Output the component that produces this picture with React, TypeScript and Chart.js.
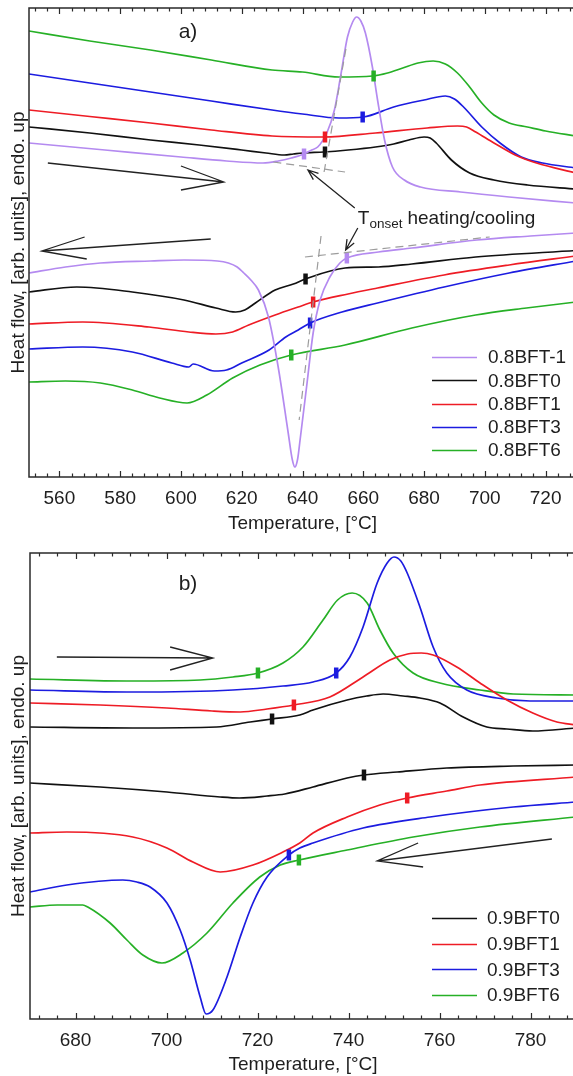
import React, { useEffect, useRef } from 'react';
import { Chart, registerables } from 'chart.js';

Chart.register(...registerables);

type Pt = [number, number];

const FONT = '"Liberation Sans", Arial, Helvetica, sans-serif';
const TEXT = '#1e1e1e';

// ================= Panel a) =================
const xRangeA: Pt = [550, 730];
const yRangeA: Pt = [0, 469];
const xTicksA = [560, 580, 600, 620, 640, 660, 680, 700, 720];
const namesA = ['0.8BFT-1', '0.8BFT0', '0.8BFT1', '0.8BFT3', '0.8BFT6'];
const colorsA = ['#b48af0', '#111111', '#ee1c25', '#1c1ce0', '#26b026'];

// heating curves (upper group)
const a_m1_heat: Pt[] = [[550, 334], [575, 327], [600, 320], [615, 316], [627, 314], [632, 316], [636.3, 319], [640.5, 323], [643, 327], [645, 330], [648, 344], [650.5, 367], [652.5, 400], [654.8, 440], [656.5, 455], [657.8, 460], [659.2, 456], [660.7, 444], [663, 410], [664.7, 377], [667, 337], [669.6, 310], [673.5, 297], [678.8, 290], [692, 285], [708, 280], [730, 274]];
const a_0_heat: Pt[] = [[550, 350], [570, 344], [590, 337], [606, 332], [620, 327], [628, 324], [634, 322], [637, 323], [640, 324], [647, 325], [655, 327], [664, 330], [670, 333], [675, 337], [680, 340], [682, 339], [684, 334], [689, 317], [695, 304], [703, 297], [714, 292], [730, 288]];
const a_1_heat: Pt[] = [[550, 367], [570, 360.5], [590, 354], [610, 347], [630, 341], [647, 340], [664, 344], [681, 349], [691, 351], [694, 350], [697, 345], [703, 334], [710, 322], [717, 314], [730, 304]];
const a_3_heat: Pt[] = [[550, 403], [570, 394], [590, 385], [610, 376], [630, 367], [640, 363], [652, 359], [660, 360], [670, 370], [680, 377], [687, 381], [690, 378], [693, 370], [699, 350], [705, 334], [712, 320], [719, 314], [730, 309]];
const a_6_heat: Pt[] = [[550, 446], [570, 436], [590, 427], [610, 417], [630, 407], [640, 405], [652, 400], [663, 401], [668, 404], [673, 409], [678, 414], [683, 416], [687, 413], [691, 404], [695, 390], [699, 374], [703, 362], [708, 354], [714, 350], [720, 346], [730, 341]];

// cooling curves (lower group)
const a_m1_cool: Pt[] = [[550, 204], [562, 210], [573.5, 214], [590, 216], [601, 217], [612, 216], [615.6, 214], [618.5, 210], [620.7, 204], [623, 197], [625.5, 187], [628.8, 160], [632, 110], [635.3, 44], [636.6, 18], [637.5, 10], [638.4, 18], [639.2, 37], [641.5, 94], [643.5, 144], [645.8, 177], [649, 200], [652.3, 214], [654.6, 219], [665, 225], [676, 229], [697.4, 237], [715, 241], [730, 244]];
const a_0_cool: Pt[] = [[550, 185], [565.7, 190], [584, 185], [601, 177], [611.5, 169], [618, 165], [621, 167], [624.5, 174], [631, 187], [637, 193], [641, 198], [654, 209], [665, 210], [676, 213], [697, 220], [730, 226.5]];
const a_1_cool: Pt[] = [[550, 153], [567.7, 155], [589.5, 150], [602.6, 145], [611.5, 143], [617, 145], [622.3, 152], [631, 162], [638.6, 170], [643.5, 175], [655, 183], [664.7, 189], [686.6, 202], [708, 212], [730, 221]];
const a_3_cool: Pt[] = [[550, 128], [567.7, 130], [584, 125], [597, 114], [602.6, 110], [604, 113], [611, 106], [615, 107], [620, 114], [629, 127], [634.5, 140], [638.6, 147], [642.5, 154], [653, 165], [664.7, 174], [686.6, 190], [708, 204], [730, 216]];
const a_6_cool: Pt[] = [[550, 95], [562, 96], [573.5, 94], [584, 87], [593, 79], [602, 74], [608.5, 82], [617, 99], [626, 112], [636.3, 122], [654, 132], [676, 149], [697, 162], [713.7, 169], [730, 175]];

// onset markers, same order as namesA
const onsetHeatA: Pt[] = [[640.5, 323], [647.4, 325], [647.4, 340], [659.8, 360], [663.4, 401]];
const onsetCoolA: Pt[] = [[654.6, 219], [641, 198], [643.5, 175], [642.5, 154], [636.3, 122]];

// annotations: [tail, tip, head1, head2]
const arrowsA: Pt[][] = [
  [[556.2, 314], [614.1, 295], [600, 311], [600, 287]],
  [[609.8, 238], [554.2, 226], [568.3, 240], [569, 218]],
];
const tangentsA: Pt[][] = [
  [[630.4, 315], [654, 305]],
  [[647.1, 305], [654.4, 430]],
  [[640.8, 220], [701.6, 240]],
  [[646.1, 241], [638.9, 57]],
];
const pointersA: Pt[][] = [
  [[657.2, 269], [641.8, 307]],
  [[658.2, 249], [654.2, 227]],
];
const onsetLabelA: Pt = [658.2, 253];

// ================= Panel b) =================
const xRangeB: Pt = [670, 790];
const yRangeB: Pt = [0, 466];
const xTicksB = [680, 700, 720, 740, 760, 780];
const namesB = ['0.9BFT0', '0.9BFT1', '0.9BFT3', '0.9BFT6'];
const colorsB = ['#111111', '#ee1c25', '#1c1ce0', '#26b026'];

const b_0_heat: Pt[] = [[670, 292], [692.6, 291], [711, 292], [718.4, 297], [723.2, 300], [729.3, 304], [732.2, 309], [739.7, 319], [744, 323], [747.6, 325], [752, 323], [755.7, 321], [760.1, 316], [765.2, 302], [770.4, 292], [774.8, 290], [780.5, 288], [790, 291]];
const b_1_heat: Pt[] = [[670, 316], [685.4, 314], [700.1, 311], [710, 308], [716.2, 307], [722.1, 310], [728, 314], [735.9, 322], [743.2, 342], [749.1, 359], [753, 365], [756, 366], [758.6, 364], [763.8, 352], [768.9, 336], [774.8, 319], [780.5, 306], [785.8, 297], [790, 294]];
const b_3_heat: Pt[] = [[670, 329], [692.6, 327], [714.6, 329], [725.6, 333], [732.2, 337], [737.3, 346], [740.3, 362], [743.2, 392], [746.3, 436], [748.5, 456], [750, 462], [751.5, 458], [752.9, 446], [755.7, 412], [758.6, 372], [761.6, 346], [766, 329], [772.6, 321], [779.9, 318], [790, 318]];
const b_6_heat: Pt[] = [[670, 340], [692.6, 338], [707.4, 339], [714.6, 342], [720.1, 346], [725.6, 356], [730, 372], [734.4, 399], [737.6, 419], [740.8, 426], [744.1, 416], [746.9, 389], [749.8, 366], [754.2, 346], [760.1, 336], [768.9, 329], [776.2, 325], [790, 324]];

const b_0_cool: Pt[] = [[670, 236], [685.4, 232], [700.1, 227], [711.8, 222], [716, 221], [722.1, 223], [726, 225], [732.2, 232], [739.7, 241], [743.4, 244], [750.7, 247], [761.6, 251], [776.2, 253], [790, 254]];
const b_1_cool: Pt[] = [[670, 186], [678.1, 187], [692.6, 182], [700.1, 171], [705.8, 157], [711.8, 147], [719, 154], [725.6, 167], [729.3, 176], [732.2, 186], [739.7, 202], [746.9, 214], [752.9, 221], [761.6, 228], [768.9, 234], [790, 242]];
const b_3_cool: Pt[] = [[670, 127], [678.1, 134], [690.4, 139], [693.5, 137], [696.4, 132], [700.1, 116], [703, 89], [705.2, 59], [707.4, 22], [708.7, 5], [710.2, 9], [713.3, 42], [716.2, 82], [719, 116], [722.1, 142], [726.9, 164], [729.3, 171], [732.2, 176], [743.2, 191], [757.9, 202], [776.2, 212], [790, 217]];
const b_6_cool: Pt[] = [[670, 112], [676, 114], [681.6, 114], [682.7, 112], [687.6, 96], [691.3, 79], [694.8, 64], [699, 56], [703.6, 66], [708.9, 86], [714.6, 116], [720.5, 142], [725, 154], [729.1, 159], [739.7, 169], [754.2, 182], [768.9, 192], [790, 202]];

const onsetHeatB: Pt[] = [[723.2, 300], [728, 314], [737.3, 346], [720.1, 346]];
const onsetCoolB: Pt[] = [[743.4, 244], [752.9, 221], [726.9, 164], [729.1, 159]];

const arrowsB: Pt[][] = [
  [[675.9, 362], [710.2, 361], [700.8, 372], [700.8, 349]],
  [[784.7, 180], [746.3, 158], [755.3, 176], [756.4, 152]],
];

// ================= helpers =================
function buildDatasets(names: string[], colors: string[], heat: Pt[][], cool: Pt[][], onH: Pt[], onC: Pt[]) {
  const ds: any[] = [];
  names.forEach((n, i) => {
    [heat[i], cool[i]].forEach((curve) => {
      ds.push({
        label: n,
        data: curve.map(([x, y]) => ({ x, y })),
        showLine: true,
        borderColor: colors[i],
        backgroundColor: colors[i],
        borderWidth: 1.7,
        pointRadius: 0,
        pointHoverRadius: 0,
        cubicInterpolationMode: 'monotone',
        fill: false,
        order: 2,
      });
    });
  });
  ds.push({
    label: 'onset',
    data: [...onH, ...onC].map(([x, y]) => ({ x, y })),
    showLine: false,
    pointStyle: 'line',
    pointRotation: 90,
    pointRadius: 5.5,
    pointBorderWidth: 4.5,
    pointBorderColor: [...colors, ...colors],
    pointBackgroundColor: [...colors, ...colors],
    order: 0,
  });
  return ds;
}

function makeOverlay(cfg: any) {
  return {
    id: 'overlay',
    afterDatasetsDraw(chart: any) {
      const { ctx, chartArea: ca, scales } = chart;
      const xs = scales.x;
      const ys = scales.y;
      const P = (p: Pt): Pt => [xs.getPixelForValue(p[0]), ys.getPixelForValue(p[1])];
      ctx.save();
      // frame
      ctx.strokeStyle = '#2a2a2a';
      ctx.lineWidth = 1.5;
      ctx.setLineDash([]);
      ctx.strokeRect(ca.left, ca.top, ca.right - ca.left, ca.bottom - ca.top);
      // inward ticks, bottom and top
      ctx.lineWidth = 1.2;
      for (let v = Math.ceil(xs.min / cfg.minor) * cfg.minor; v <= xs.max + 1e-9; v += cfg.minor) {
        const px = Math.round(xs.getPixelForValue(v)) + 0.5;
        const len = Math.abs(v % cfg.major) < 1e-6 ? 6 : 3.5;
        ctx.beginPath();
        ctx.moveTo(px, ca.bottom);
        ctx.lineTo(px, ca.bottom - len);
        ctx.moveTo(px, ca.top);
        ctx.lineTo(px, ca.top + len);
        ctx.stroke();
      }
      // dashed tangent constructions
      ctx.setLineDash([8, 5]);
      ctx.strokeStyle = '#9c9c9c';
      ctx.lineWidth = 1.2;
      (cfg.tangents || []).forEach((seg: Pt[]) => {
        const a = P(seg[0]);
        const b = P(seg[1]);
        ctx.beginPath();
        ctx.moveTo(a[0], a[1]);
        ctx.lineTo(b[0], b[1]);
        ctx.stroke();
      });
      ctx.setLineDash([]);
      // direction arrows
      ctx.strokeStyle = '#222';
      ctx.lineWidth = 1.3;
      (cfg.arrows || []).forEach((ar: Pt[]) => {
        const [t, tip, h1, h2] = ar.map(P);
        ctx.beginPath();
        ctx.moveTo(t[0], t[1]);
        ctx.lineTo(tip[0], tip[1]);
        ctx.moveTo(h1[0], h1[1]);
        ctx.lineTo(tip[0], tip[1]);
        ctx.lineTo(h2[0], h2[1]);
        ctx.stroke();
      });
      // pointer arrows
      (cfg.pointers || []).forEach((pr: Pt[]) => {
        const a = P(pr[0]);
        const b = P(pr[1]);
        const ang = Math.atan2(b[1] - a[1], b[0] - a[0]);
        const L = 11;
        const w = 0.38;
        ctx.beginPath();
        ctx.moveTo(a[0], a[1]);
        ctx.lineTo(b[0], b[1]);
        ctx.moveTo(b[0] - L * Math.cos(ang - w), b[1] - L * Math.sin(ang - w));
        ctx.lineTo(b[0], b[1]);
        ctx.lineTo(b[0] - L * Math.cos(ang + w), b[1] - L * Math.sin(ang + w));
        ctx.stroke();
      });
      // onset label
      ctx.fillStyle = TEXT;
      if (cfg.onsetLabel) {
        const [lx, ly] = P(cfg.onsetLabel);
        ctx.textBaseline = 'alphabetic';
        ctx.textAlign = 'left';
        ctx.font = `19px ${FONT}`;
        ctx.fillText('T', lx, ly);
        let x = lx + ctx.measureText('T').width;
        ctx.font = `13.5px ${FONT}`;
        ctx.fillText('onset', x, ly + 4);
        x += ctx.measureText('onset').width + 5;
        ctx.font = `19px ${FONT}`;
        ctx.fillText('heating/cooling', x, ly);
      }
      // panel label
      ctx.font = `21px ${FONT}`;
      ctx.textAlign = 'center';
      ctx.textBaseline = 'middle';
      ctx.fillText(cfg.panelLabel, ca.left + cfg.panelLabelPos[0], ca.top + cfg.panelLabelPos[1]);
      // legend
      const lg = cfg.legend;
      ctx.font = `19px ${FONT}`;
      ctx.textAlign = 'left';
      ctx.textBaseline = 'middle';
      lg.names.forEach((n: string, i: number) => {
        const y = ca.top + lg.y0 + i * lg.dy;
        ctx.strokeStyle = lg.colors[i];
        ctx.lineWidth = 1.7;
        ctx.beginPath();
        ctx.moveTo(ca.left + lg.x0, Math.round(y) + 0.5);
        ctx.lineTo(ca.left + lg.x1, Math.round(y) + 0.5);
        ctx.stroke();
        ctx.fillStyle = TEXT;
        ctx.fillText(n, ca.left + lg.tx, y + 1);
      });
      ctx.restore();
    },
  };
}

function Panel(props: any) {
  const { top, height, cfg } = props;
  const ref = useRef<HTMLCanvasElement>(null);
  useEffect(() => {
    const chart = new Chart(ref.current as HTMLCanvasElement, {
      type: 'scatter',
      data: { datasets: cfg.datasets },
      options: {
        responsive: false,
        animation: false,
        devicePixelRatio: 1,
        events: [],
        layout: { autoPadding: false, padding: { top: cfg.padTop, left: 0, right: 0, bottom: 0 } },
        plugins: { legend: { display: false }, tooltip: { enabled: false } },
        scales: {
          x: {
            type: 'linear',
            position: 'bottom',
            min: cfg.xRange[0],
            max: cfg.xRange[1],
            grid: { display: false, drawTicks: false },
            border: { display: false },
            ticks: {
              font: { family: FONT, size: 19 },
              color: TEXT,
              padding: 10,
              maxRotation: 0,
              autoSkip: false,
              callback: (v: any) => String(v),
            },
            afterBuildTicks: (s: any) => {
              s.ticks = cfg.xTicks.map((v: number) => ({ value: v }));
            },
            afterFit: (s: any) => {
              s.height = cfg.xAxisH;
            },
            title: {
              display: true,
              text: 'Temperature, [°C]',
              font: { family: FONT, size: 19 },
              color: TEXT,
              padding: { top: 0, bottom: 0 },
            },
          },
          y: {
            type: 'linear',
            position: 'left',
            min: cfg.yRange[0],
            max: cfg.yRange[1],
            grid: { display: false, drawTicks: false },
            border: { display: false },
            ticks: { display: false },
            afterFit: (s: any) => {
              s.width = cfg.yAxisW;
            },
            title: {
              display: true,
              text: 'Heat flow, [arb. units], endo. up',
              font: { family: FONT, size: 19 },
              color: TEXT,
              padding: { top: 7, bottom: 0 },
            },
          },
        },
      } as any,
      plugins: [makeOverlay(cfg.overlay)],
    });
    return () => chart.destroy();
  }, []);
  return (
    <canvas
      ref={ref}
      width={576}
      height={height}
      style={{ position: 'absolute', left: 0, top, width: 576, height, display: 'block' }}
    />
  );
}

const cfgA = {
  datasets: buildDatasets(namesA, colorsA, [a_m1_heat, a_0_heat, a_1_heat, a_3_heat, a_6_heat], [a_m1_cool, a_0_cool, a_1_cool, a_3_cool, a_6_cool], onsetHeatA, onsetCoolA),
  xRange: xRangeA,
  yRange: yRangeA,
  xTicks: xTicksA,
  padTop: 8,
  xAxisH: 58,
  yAxisW: 29,
  overlay: {
    minor: 4,
    major: 20,
    arrows: arrowsA,
    tangents: tangentsA,
    pointers: pointersA,
    onsetLabel: onsetLabelA,
    panelLabel: 'a)',
    panelLabelPos: [159, 24],
    legend: { names: namesA, colors: colorsA, x0: 403, x1: 448, tx: 459, y0: 349, dy: 23.3 },
  },
};

const cfgB = {
  datasets: buildDatasets(namesB, colorsB, [b_0_heat, b_1_heat, b_3_heat, b_6_heat], [b_0_cool, b_1_cool, b_3_cool, b_6_cool], onsetHeatB, onsetCoolB),
  xRange: xRangeB,
  yRange: yRangeB,
  xTicks: xTicksB,
  padTop: 13,
  xAxisH: 57,
  yAxisW: 30,
  overlay: {
    minor: 4,
    major: 20,
    arrows: arrowsB,
    tangents: [],
    pointers: [],
    onsetLabel: null,
    panelLabel: 'b)',
    panelLabelPos: [158, 31],
    legend: { names: namesB, colors: colorsB, x0: 402, x1: 447, tx: 457, y0: 365, dy: 25.7 },
  },
};

export default function App() {
  return (
    <div
      style={{
        position: 'absolute',
        left: 0,
        top: 0,
        width: 573,
        height: 1076,
        overflow: 'hidden',
        background: '#ffffff',
      }}
    >
      <Panel top={0} height={535} cfg={cfgA} />
      <Panel top={540} height={536} cfg={cfgB} />
    </div>
  );
}
